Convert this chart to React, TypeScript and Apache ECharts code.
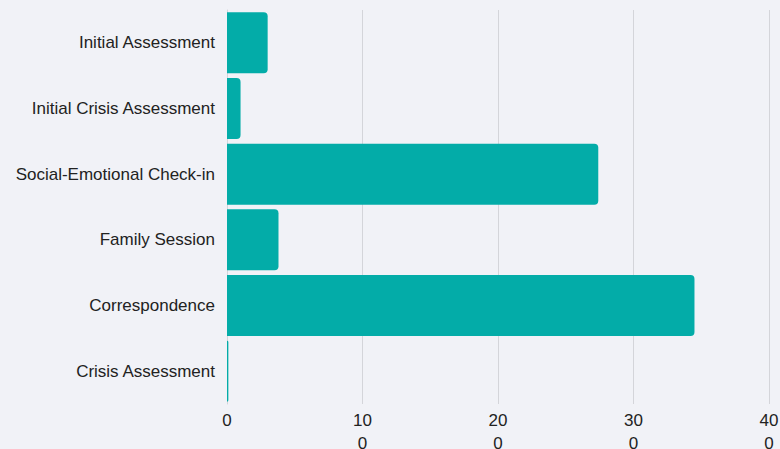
import React, { useEffect, useRef } from "react";
import * as echarts from "echarts";

const categories = [
  "Initial Assessment",
  "Initial Crisis Assessment",
  "Social-Emotional Check-in",
  "Family Session",
  "Correspondence",
  "Crisis Assessment",
];
const values = [30, 10, 274, 38, 345, 1];

export default function App() {
  const ref = useRef<HTMLDivElement>(null);
  useEffect(() => {
    if (!ref.current) return;
    const chart = echarts.init(ref.current, null, { renderer: "svg" });
    chart.setOption({
      animation: false,
      backgroundColor: "#f1f2f7",
      grid: {
        left: 227,
        right: 11,
        top: 10,
        bottom: 45,
        containLabel: false,
        outerBoundsMode: "none",
      },
      xAxis: {
        type: "value",
        min: 0,
        max: 400,
        interval: 100,
        axisLine: { show: false },
        axisTick: { show: false },
        splitLine: { show: true, lineStyle: { color: "#d4d5da", width: 1 } },
        axisLabel: {
          color: "#222",
          fontSize: 17,
          fontFamily: "Liberation Sans, Arial, sans-serif",
          margin: 5,
          width: 22,
          overflow: "breakAll",
          lineHeight: 23,
        },
      },
      yAxis: {
        type: "category",
        data: categories,
        inverse: true,
        axisLine: { show: true, lineStyle: { color: "#d4d5da" } },
        axisTick: { show: false },
        axisLabel: {
          color: "#222",
          fontSize: 17,
          fontFamily: "Liberation Sans, Arial, sans-serif",
          margin: 12,
        },
      },
      series: [
        {
          type: "bar",
          data: values,
          barCategoryGap: "7%",
          itemStyle: { color: "#03aca8", borderRadius: [0, 4, 4, 0] },
        },
      ],
    });
    return () => chart.dispose();
  }, []);
  return (
    <div
      ref={ref}
      style={{ position: "fixed", left: 0, top: 0, width: 780, height: 449 }}
    />
  );
}
